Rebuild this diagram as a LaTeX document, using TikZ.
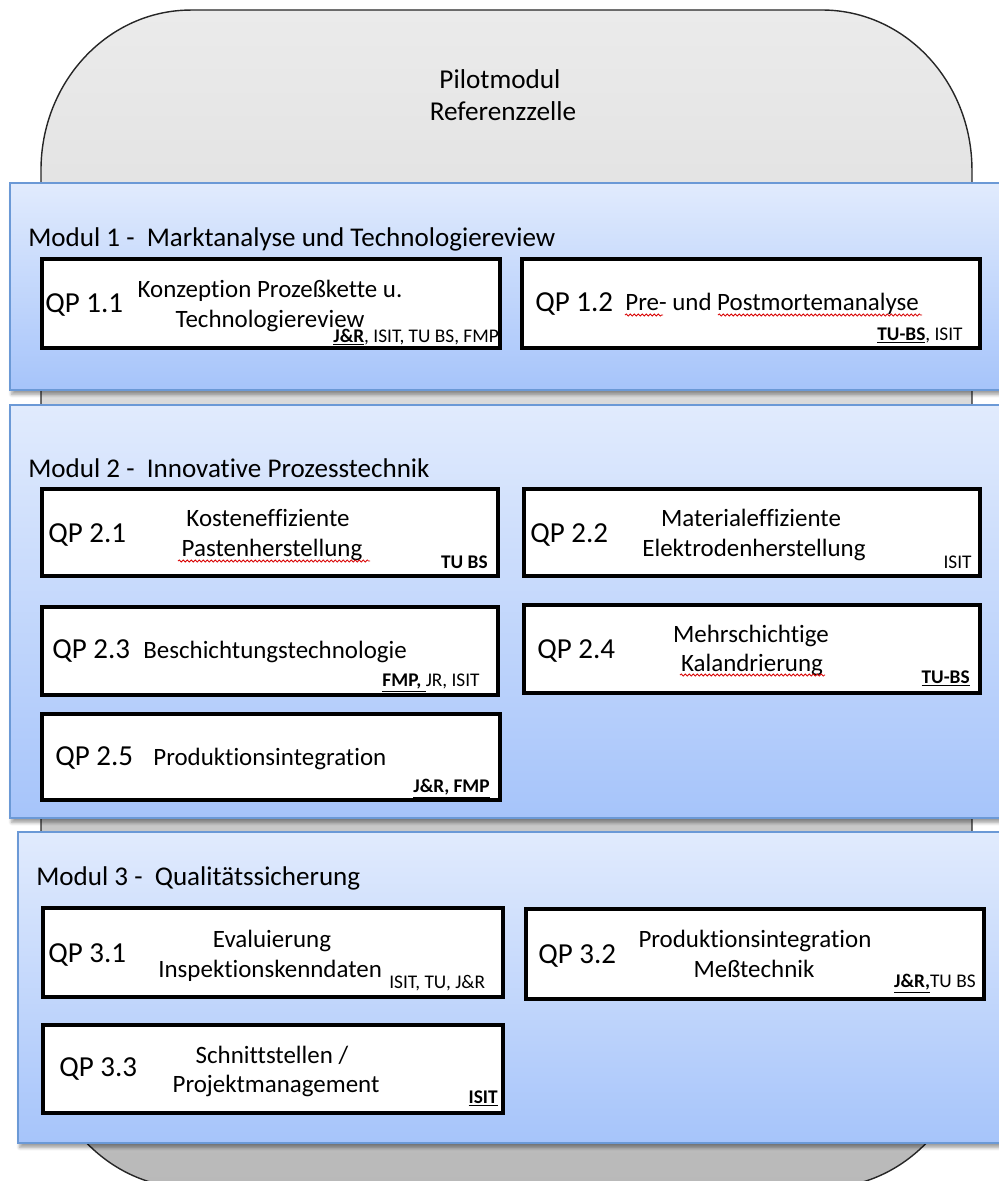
\documentclass[tikz,border=0pt]{standalone}
\usepackage{fontspec}
\setmainfont{Carlito}[Ligatures=CommonOff]
\usetikzlibrary{fit,shadows.blur,decorations.pathmorphing}

\definecolor{pilotTop}{HTML}{EBEBEB}
\definecolor{pilotBottom}{HTML}{B9B9B9}
\definecolor{panelTop}{HTML}{E1EBFD}
\definecolor{panelBottom}{HTML}{A6C4FA}
\definecolor{panelLine}{HTML}{6B99D6}

\tikzset{
  panel/.style={draw=panelLine, line width=0.8pt, inner sep=0pt,
    top color=panelTop, bottom color=panelBottom,
    blur shadow={shadow xshift=1pt, shadow yshift=-2.5pt, shadow blur steps=6, shadow opacity=40}},
  qpbox/.style={draw=black, line width=2.3pt, fill=white, inner sep=0pt},
  pilot/.style={font=\fontsize{15.5}{18}\selectfont, anchor=base, inner sep=0pt},
  modtitle/.style={font=\fontsize{15.4}{18}\selectfont, anchor=base west, inner sep=0pt},
  qplabel/.style={font=\fontsize{16.5}{20}\selectfont, anchor=base west, inner sep=0pt},
  qptext/.style={font=\fontsize{14.2}{17}\selectfont, anchor=base, inner sep=0pt},
  partner/.style={font=\fontsize{11}{13}\selectfont, inner sep=0pt},
  wavy/.style={draw=red!85!black, line width=0.45pt, decorate,
    decoration={snake, segment length=0.08cm, amplitude=0.022cm}}
}

\begin{document}
\begin{tikzpicture}[x=0.02cm,y=-0.02cm]
  \useasboundingbox (0,0) rectangle (999,1181);
  \clip (0,0) rectangle (999,1181);

  % Pilotmodul (Hintergrund)
  \path[draw=black!85, line width=0.8pt, top color=pilotTop, bottom color=pilotBottom]
    (41,1028) -- (41,170)
    arc[start angle=180, end angle=90, x radius=3cm, y radius=3.2cm] -- (822,10)
    arc[start angle=90, end angle=0, x radius=3cm, y radius=3.2cm] -- (972,1028)
    arc[start angle=0, end angle=-90, x radius=3cm, y radius=3.2cm] -- (191,1188)
    arc[start angle=270, end angle=180, x radius=3cm, y radius=3.2cm] -- cycle;
  \node[pilot] (pilot1) at (500,88) {Pilotmodul};
  \node[pilot] (pilot2) at (503,120) {Referenzzelle};

  % Module
  \node[panel, fit={(10,183) (1015,390)}] (mod1) {};
  \node[panel, fit={(10,405) (1015,818)}] (mod2) {};
  \node[panel, fit={(18,832) (1015,1143)}] (mod3) {};

  % QP-Kaesten
  \node[qpbox, fit={(42,259) (500,348)}] (qp11) {};
  \node[qpbox, fit={(522,259) (980,348)}] (qp12) {};
  \node[qpbox, fit={(42,489) (498,576)}] (qp21) {};
  \node[qpbox, fit={(524,489) (980,576)}] (qp22) {};
  \node[qpbox, fit={(42,607) (498,695)}] (qp23) {};
  \node[qpbox, fit={(524,605) (980,693)}] (qp24) {};
  \node[qpbox, fit={(42,714) (500,800)}] (qp25) {};
  \node[qpbox, fit={(43,908) (503,997)}] (qp31) {};
  \node[qpbox, fit={(526,909) (984,999)}] (qp32) {};
  \node[qpbox, fit={(43,1025) (503,1113)}] (qp33) {};

  % Modul 1
  \node[modtitle] (m1) at (28,246) {Modul 1 -\ \ Marktanalyse und Technologiereview};
  \node[qplabel] (l11) at (45,312) {QP 1.1};
  \node[qptext] (t11a) at (270,297) {Konzeption Prozeßkette u.};
  \node[qptext] (t11b) at (270,327) {Technologiereview};
  \node[partner, anchor=base west] (p11) at (333,342) {\underline{\textbf{J\&R}}, ISIT, TU BS, FMP};
  \node[qplabel] (l12) at (535,311) {QP 1.2};
  \node[qptext, anchor=base west] (t12) at (625,310) {Pre- und Postmortemanalyse};
  \node[partner, anchor=base east] (p12) at (963,340) {\underline{\textbf{TU-BS}}, ISIT};
  \draw[wavy] (625,315) -- (663,315);
  \draw[wavy] (718,315) -- (922,315);

  % Modul 2
  \node[modtitle] (m2) at (28,477) {Modul 2 -\ \ Innovative Prozesstechnik};
  \node[qplabel] (l21) at (48,542) {QP 2.1};
  \node[qptext] (t21a) at (268,526) {Kosteneffiziente};
  \node[qptext] (t21b) at (272,556) {Pastenherstellung};
  \node[partner, anchor=base east] (p21) at (488,568) {\textbf{TU BS}};
  \draw[wavy] (178,561) -- (370,561);
  \node[qplabel] (l22) at (530,542) {QP 2.2};
  \node[qptext] (t22a) at (751,526) {Materialeffiziente};
  \node[qptext] (t22b) at (754,556) {Elektrodenherstellung};
  \node[partner, anchor=base east] (p22) at (972,568) {ISIT};
  \node[qplabel] (l23) at (52,658) {QP 2.3};
  \node[qptext, anchor=base west] (t23) at (143,658) {Beschichtungstechnologie};
  \node[partner, anchor=base east] (p23) at (480,686) {\underline{\textbf{FMP, }}JR, ISIT};
  \node[qplabel] (l24) at (537,658) {QP 2.4};
  \node[qptext] (t24a) at (751,642) {Mehrschichtige};
  \node[qptext] (t24b) at (752,671) {Kalandrierung};
  \node[partner, anchor=base east] (p24) at (970,683) {\underline{\textbf{TU-BS}}};
  \draw[wavy] (680,675) -- (825,675);
  \node[qplabel] (l25) at (55,765) {QP 2.5};
  \node[qptext, anchor=base west] (t25) at (153,765) {Produktionsintegration};
  \node[partner, anchor=base east] (p25) at (490,792) {\underline{\textbf{J\&R, FMP}}};

  % Modul 3
  \node[modtitle] (m3) at (36,885) {Modul 3 -\ \ Qualitätssicherung};
  \node[qplabel] (l31) at (48,962) {QP 3.1};
  \node[qptext] (t31a) at (272,947) {Evaluierung};
  \node[qptext, anchor=base west] (t31b) at (158,977) {Inspektionskenndaten};
  \node[partner, anchor=base west] (p31) at (389,988) {ISIT, TU, J\&R};
  \node[qplabel] (l32) at (538,963) {QP 3.2};
  \node[qptext] (t32a) at (755,947) {Produktionsintegration};
  \node[qptext] (t32b) at (754,977) {Meßtechnik};
  \node[partner, anchor=base east] (p32) at (976,987) {\underline{\textbf{J\&R,}}TU BS};
  \node[qplabel] (l33) at (59,1076) {QP 3.3};
  \node[qptext] (t33a) at (272,1063) {Schnittstellen /};
  \node[qptext] (t33b) at (276,1092) {Projektmanagement};
  \node[partner, anchor=base east] (p33) at (498,1103) {\underline{\textbf{ISIT}}};
\end{tikzpicture}
\end{document}
